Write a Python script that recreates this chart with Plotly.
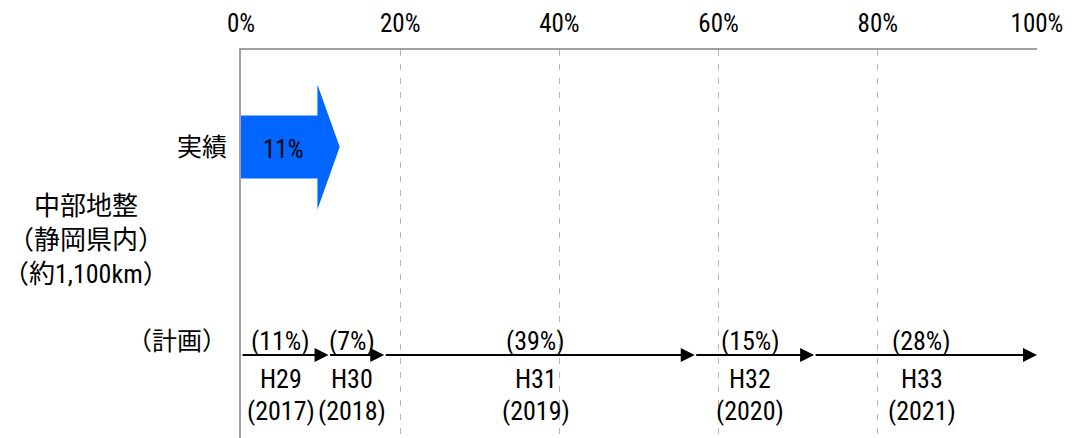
import numpy as np
import plotly.graph_objects as go

# ---- data ----
axis_ticks = [0, 20, 40, 60, 80, 100]
axis_tick_labels = ["0%", "20%", "40%", "60%", "80%", "100%"]
row_labels = ["（計画）", "実績"]
actual_value = 11
actual_label = "11%"
plan_values = [11, 7, 39, 15, 28]
plan_labels = ["(11%)", "(7%)", "(39%)", "(15%)", "(28%)"]
plan_era = ["H29", "H30", "H31", "H32", "H33"]
plan_years = ["(2017)", "(2018)", "(2019)", "(2020)", "(2021)"]
region_label = "中部地整<br>（静岡県内）<br>（約1,100km）"

# ---- style ----
FONT = "'Roboto Condensed', 'Noto Sans CJK JP', sans-serif"
BLUE = "#0066ff"
AXIS_GRAY = "#a0a0a0"
GRID_GRAY = "#b8b8b8"
HEAD = 2.8        # arrow head length (x units)
BODY_H = 0.162    # half height of arrow body (row units)
HEAD_H = 0.322    # half height of arrow head (row units)

fig = go.Figure()

# big blue arrow for actual value
tip = actual_value + HEAD / 2
neck = actual_value - HEAD / 2
xs = [0, neck, neck, tip, neck, neck, 0, 0]
ys = [1 - BODY_H, 1 - BODY_H, 1 - HEAD_H, 1, 1 + HEAD_H, 1 + BODY_H, 1 + BODY_H, 1 - BODY_H]
fig.add_trace(go.Scatter(x=xs, y=ys, mode="lines", fill="toself", fillcolor=BLUE,
                         line=dict(width=0, color=BLUE), hoverinfo="skip"))
fig.add_annotation(x=0, y=1, xref="x", yref="y", text=actual_label, showarrow=False,
                   xanchor="left", xshift=20, yshift=-2,
                   font=dict(family=FONT, size=25, color="black"))

# plan arrows
ends = np.cumsum(plan_values)
starts = np.concatenate([[0], ends[:-1]])
for s, e, lab, era, yr in zip(starts, ends, plan_labels, plan_era, plan_years):
    fig.add_annotation(x=float(e), y=0, ax=float(s), ay=0, xref="x", yref="y",
                       axref="x", ayref="y", text="", showarrow=True,
                       arrowhead=2, arrowsize=1.4, arrowwidth=2, arrowcolor="black",
                       yshift=-14)
    mid = (s + e) / 2
    for txt, dy in ((lab, 0), (era, -38), (yr, -70)):
        fig.add_annotation(x=float(mid), y=0, xref="x", yref="y", text=txt,
                           showarrow=False, xshift=-4, yshift=dy,
                           font=dict(family=FONT, size=26, color="black"))

# region label
fig.add_annotation(x=-0.195, y=0.5, xref="paper", yref="y", text=region_label,
                   showarrow=False, xanchor="center", yshift=4,
                   font=dict(family=FONT, size=26, color="black"))

fig.update_layout(
    width=1078, height=438,
    margin=dict(l=241, r=41, t=50, b=0),
    plot_bgcolor="white", paper_bgcolor="white",
    showlegend=False,
    xaxis=dict(side="top", range=[0, 100], tickvals=axis_ticks, ticktext=axis_tick_labels,
               showgrid=True, gridcolor=GRID_GRAY, gridwidth=1.3, griddash="6px,8px",
               showline=True, linecolor=AXIS_GRAY, linewidth=2, zeroline=False,
               ticks="", ticklabelstandoff=6,
               tickfont=dict(family=FONT, size=25, color="black")),
    yaxis=dict(range=[-0.5, 1.5], tickvals=[0, 1], ticktext=row_labels,
               showgrid=False, zeroline=False, showline=True, linecolor=AXIS_GRAY,
               linewidth=2, ticks="", ticklabelstandoff=7,
               tickfont=dict(family=FONT, size=25, color="black")),
)

fig.write_html("out.html", config={"displayModeBar": False},
               post_script="document.body.style.margin='0';document.body.style.overflow='hidden';")
